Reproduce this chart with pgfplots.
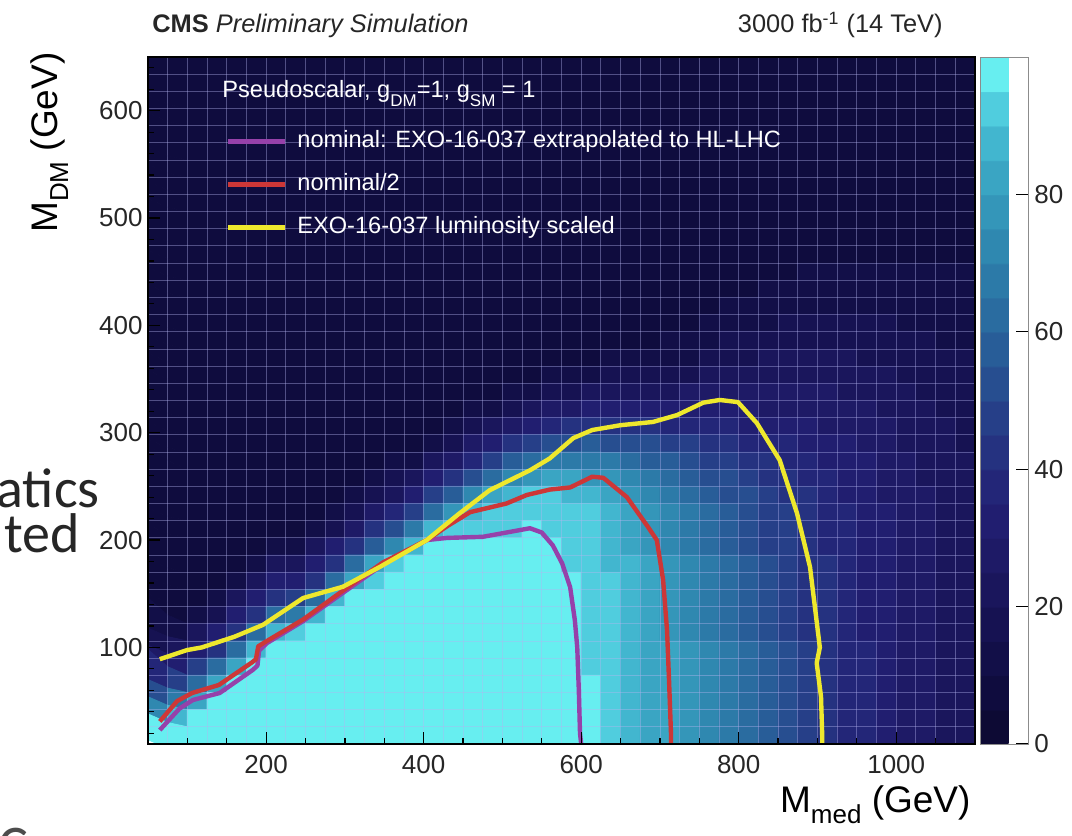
\documentclass[border=0pt]{standalone}
\usepackage{pgfplots}
\pgfplotsset{compat=1.18}
\usepackage{pgfplotstable}
\usepackage{fontspec}
\setmainfont{Liberation Sans}
\newfontfamily\slidefont{Carlito}
\definecolor{cpurple}{RGB}{150,65,170}
\definecolor{cred}{RGB}{205,55,55}
\definecolor{cyellow}{RGB}{238,232,45}
\definecolor{gridc}{RGB}{180,180,240}
\newcommand{\ticfont}{\fontsize{13}{15}\selectfont}
\newcommand{\labfont}{\fontsize{18.5}{21}\selectfont}
\newcommand{\legfont}{\fontsize{11.8}{13}\selectfont}
\newcommand{\labsub}[1]{\raisebox{-0.3em}{\fontsize{13}{13}\selectfont #1}}
\newcommand{\legsub}[1]{\raisebox{-0.35em}{\fontsize{8.5}{8.5}\selectfont #1}}

% heat map values, one row per M_DM bin (top row first, 16 GeV bins), 42 M_med bins of 25 GeV each
\pgfplotstableread[row sep=\\, header=false]{
7\\7\\7\\7\\7\\7\\7\\ 7\\7\\7\\7\\7\\7\\7\\ 7\\7\\7\\7\\7\\7\\7\\ 7\\7\\7\\7\\7\\7\\7\\ 7\\7\\7\\7\\7\\7\\7\\ 7\\7\\7\\7\\7\\7\\7\\
7\\7\\7\\7\\7\\7\\7\\ 7\\7\\7\\7\\7\\7\\7\\ 7\\7\\7\\7\\7\\7\\7\\ 7\\7\\7\\7\\7\\7\\7\\ 7\\7\\7\\7\\7\\7\\7\\ 7\\7\\7\\7\\7\\7\\7\\
7\\7\\7\\7\\7\\7\\7\\ 7\\7\\7\\7\\7\\7\\7\\ 7\\7\\7\\7\\7\\7\\7\\ 7\\7\\7\\7\\7\\7\\7\\ 7\\7\\7\\7\\7\\7\\7\\ 7\\7\\7\\7\\7\\7\\7\\
7\\7\\7\\7\\7\\7\\7\\ 7\\7\\7\\7\\7\\7\\7\\ 7\\7\\7\\7\\7\\7\\7\\ 7\\7\\7\\7\\7\\7\\7\\ 7\\7\\7\\7\\7\\7\\7\\ 7\\7\\7\\7\\7\\7\\7\\
7\\7\\7\\7\\7\\7\\7\\ 7\\7\\7\\7\\7\\7\\7\\ 7\\7\\7\\7\\7\\7\\7\\ 7\\7\\7\\7\\7\\7\\7\\ 7\\7\\7\\7\\7\\7\\7\\ 7\\7\\7\\7\\7\\7\\7\\
7\\7\\7\\7\\7\\7\\7\\ 7\\7\\7\\7\\7\\7\\7\\ 7\\7\\7\\7\\7\\7\\7\\ 7\\7\\7\\7\\7\\7\\7\\ 7\\7\\7\\7\\7\\7\\7\\ 7\\7\\7\\7\\7\\7\\7\\
7\\7\\7\\7\\7\\7\\7\\ 7\\7\\7\\7\\7\\7\\7\\ 7\\7\\7\\7\\7\\7\\7\\ 7\\7\\7\\7\\7\\7\\7\\ 7\\7\\7\\7\\7\\7\\7\\ 7\\7\\7\\7\\7\\7\\7\\
7\\7\\7\\7\\7\\7\\7\\ 7\\7\\7\\7\\7\\7\\7\\ 7\\7\\7\\7\\7\\7\\7\\ 7\\7\\7\\7\\7\\7\\7\\ 7\\7\\7\\7\\7\\7\\7\\ 7\\7\\7\\7\\7\\7\\7\\
7\\7\\7\\7\\7\\7\\7\\ 7\\7\\7\\7\\7\\7\\7\\ 7\\7\\7\\7\\7\\7\\7\\ 7\\7\\7\\7\\7\\7\\7\\ 7\\7\\7\\7\\7\\7\\7\\ 7\\7\\7\\7\\7\\7\\7\\
7\\7\\7\\7\\7\\7\\7\\ 7\\7\\7\\7\\7\\7\\7\\ 7\\7\\7\\7\\7\\7\\7\\ 7\\7\\7\\7\\7\\7\\7\\ 7\\7\\7\\7\\7\\7\\7\\ 7\\7\\7\\7\\7\\7\\7\\
7\\7\\7\\7\\7\\7\\7\\ 7\\7\\7\\7\\7\\7\\7\\ 7\\7\\7\\7\\7\\7\\7\\ 7\\7\\7\\7\\7\\7\\7\\ 7\\7\\7\\7\\7\\7\\8\\ 8\\8\\8\\8\\8\\8\\8\\
7\\7\\7\\7\\7\\7\\7\\ 7\\7\\7\\7\\7\\7\\7\\ 7\\7\\7\\7\\7\\7\\7\\ 7\\7\\7\\7\\7\\7\\7\\ 7\\7\\7\\7\\8\\8\\9\\ 9\\9\\9\\9\\9\\9\\9\\
7\\7\\7\\7\\7\\7\\7\\ 7\\7\\7\\7\\7\\7\\7\\ 7\\7\\7\\7\\7\\7\\7\\ 7\\7\\7\\7\\7\\7\\7\\ 7\\7\\8\\8\\9\\10\\10\\ 11\\11\\10\\10\\10\\10\\10\\
7\\7\\7\\7\\7\\7\\7\\ 7\\7\\7\\7\\7\\7\\7\\ 7\\7\\7\\7\\7\\7\\7\\ 7\\7\\7\\7\\7\\7\\7\\ 7\\8\\9\\10\\11\\12\\12\\ 12\\12\\12\\11\\11\\11\\11\\
7\\7\\7\\7\\7\\7\\7\\ 7\\7\\7\\7\\7\\7\\7\\ 7\\7\\7\\7\\7\\7\\7\\ 7\\7\\7\\7\\7\\7\\7\\ 8\\10\\11\\12\\13\\14\\14\\ 14\\14\\13\\13\\12\\12\\12\\
7\\7\\7\\7\\7\\7\\7\\ 7\\7\\7\\7\\7\\7\\7\\ 7\\7\\7\\7\\7\\7\\7\\ 7\\7\\7\\7\\7\\8\\8\\ 10\\12\\13\\14\\15\\16\\16\\ 16\\15\\15\\14\\13\\13\\13\\
7\\7\\7\\7\\7\\7\\7\\ 7\\7\\7\\7\\7\\7\\7\\ 7\\7\\7\\7\\7\\7\\7\\ 7\\7\\7\\8\\9\\10\\11\\ 13\\15\\16\\17\\17\\18\\18\\ 18\\17\\16\\16\\15\\14\\14\\
7\\7\\7\\7\\7\\7\\7\\ 7\\7\\7\\7\\7\\7\\7\\ 7\\7\\7\\7\\7\\7\\7\\ 8\\9\\10\\11\\12\\13\\14\\ 16\\18\\19\\20\\20\\20\\20\\ 20\\19\\18\\17\\16\\15\\15\\
7\\7\\7\\7\\7\\7\\7\\ 7\\7\\7\\7\\7\\7\\7\\ 7\\7\\7\\7\\7\\9\\10\\ 12\\13\\15\\16\\17\\18\\19\\ 20\\22\\23\\23\\23\\23\\22\\ 22\\21\\20\\19\\18\\17\\16\\
7\\7\\7\\7\\7\\7\\7\\ 7\\7\\7\\7\\7\\7\\7\\ 7\\7\\7\\9\\11\\14\\16\\ 18\\20\\22\\23\\23\\24\\25\\ 25\\26\\26\\26\\26\\25\\25\\ 24\\23\\22\\20\\19\\18\\17\\
7\\7\\7\\7\\7\\7\\7\\ 7\\7\\7\\7\\7\\7\\7\\ 7\\7\\10\\13\\18\\22\\25\\ 28\\30\\31\\31\\31\\31\\31\\ 30\\30\\30\\29\\29\\28\\27\\ 26\\25\\23\\22\\21\\19\\18\\
7\\7\\7\\7\\7\\7\\7\\ 7\\7\\7\\7\\7\\7\\7\\ 9\\11\\16\\21\\28\\33\\36\\ 40\\42\\42\\41\\40\\39\\38\\ 36\\35\\34\\33\\32\\31\\29\\ 28\\27\\25\\23\\22\\20\\19\\
7\\7\\7\\7\\7\\7\\7\\ 7\\7\\7\\7\\7\\7\\9\\ 13\\17\\25\\32\\40\\46\\50\\ 54\\55\\54\\52\\50\\48\\46\\ 42\\41\\39\\37\\35\\33\\31\\ 30\\28\\26\\24\\23\\21\\19\\
7\\7\\7\\7\\7\\7\\7\\ 7\\7\\7\\7\\7\\10\\14\\ 20\\27\\37\\46\\55\\62\\66\\ 68\\68\\66\\63\\59\\56\\53\\ 48\\46\\43\\40\\38\\36\\33\\ 31\\30\\27\\25\\24\\22\\20\\
7\\7\\7\\7\\7\\7\\7\\ 7\\7\\7\\7\\11\\15\\22\\ 31\\40\\52\\62\\72\\78\\80\\ 80\\78\\76\\72\\67\\63\\59\\ 54\\50\\47\\43\\40\\38\\35\\ 33\\31\\28\\26\\24\\22\\20\\
7\\7\\7\\7\\7\\7\\7\\ 7\\7\\7\\12\\18\\24\\33\\ 45\\56\\70\\80\\88\\92\\90\\ 88\\86\\83\\78\\73\\68\\64\\ 58\\54\\50\\46\\43\\40\\37\\ 34\\32\\29\\26\\25\\23\\21\\
7\\7\\7\\7\\7\\7\\7\\ 7\\7\\12\\19\\28\\36\\48\\ 64\\76\\88\\90\\93\\93\\93\\ 92\\90\\87\\82\\77\\72\\68\\ 62\\57\\53\\49\\45\\42\\38\\ 35\\33\\30\\27\\26\\23\\21\\
7\\7\\7\\7\\7\\7\\7\\ 7\\12\\19\\29\\42\\52\\68\\ 86\\93\\93\\94\\94\\96\\94\\ 92\\90\\87\\82\\77\\72\\68\\ 62\\57\\53\\49\\45\\42\\38\\ 35\\33\\30\\27\\26\\23\\21\\
7\\7\\7\\7\\7\\7\\12\\ 12\\20\\30\\43\\58\\72\\88\\ 98\\98\\98\\98\\98\\98\\98\\ 92\\90\\87\\82\\77\\72\\68\\ 62\\57\\53\\49\\45\\42\\38\\ 35\\33\\30\\27\\26\\23\\21\\
7\\7\\7\\7\\7\\12\\20\\ 20\\30\\44\\60\\80\\90\\98\\ 98\\98\\98\\98\\98\\98\\98\\ 92\\90\\87\\85\\81\\76\\72\\ 66\\61\\57\\52\\48\\44\\40\\ 37\\34\\31\\28\\26\\24\\22\\
7\\7\\7\\7\\12\\20\\30\\ 31\\44\\62\\80\\94\\98\\98\\ 98\\98\\98\\98\\98\\98\\98\\ 95\\90\\90\\85\\81\\76\\72\\ 66\\61\\57\\52\\48\\44\\40\\ 37\\34\\31\\28\\26\\24\\22\\
7\\7\\7\\12\\20\\30\\44\\ 46\\63\\85\\96\\98\\98\\98\\ 98\\98\\98\\98\\98\\98\\98\\ 95\\94\\90\\85\\81\\76\\72\\ 66\\61\\57\\52\\48\\44\\40\\ 37\\34\\31\\28\\26\\24\\22\\
7\\7\\12\\19\\30\\44\\63\\ 66\\86\\98\\98\\98\\98\\98\\ 98\\98\\98\\98\\98\\98\\98\\ 95\\94\\90\\85\\81\\76\\72\\ 66\\61\\57\\52\\48\\44\\40\\ 37\\34\\31\\28\\26\\24\\22\\
10\\13\\20\\30\\44\\63\\86\\ 92\\98\\98\\98\\98\\98\\98\\ 98\\98\\98\\98\\98\\98\\98\\ 95\\94\\90\\85\\81\\76\\72\\ 66\\61\\57\\52\\48\\44\\40\\ 37\\34\\31\\28\\26\\24\\22\\
16\\22\\30\\44\\62\\85\\98\\ 98\\98\\98\\98\\98\\98\\98\\ 98\\98\\98\\98\\98\\98\\98\\ 98\\94\\90\\88\\84\\80\\76\\ 71\\65\\60\\55\\50\\46\\42\\ 38\\35\\32\\29\\27\\24\\22\\
26\\33\\45\\62\\84\\98\\98\\ 98\\98\\98\\98\\98\\98\\98\\ 98\\98\\98\\98\\98\\98\\98\\ 98\\94\\92\\88\\84\\80\\76\\ 71\\65\\60\\55\\50\\46\\42\\ 38\\35\\32\\29\\27\\24\\22\\
38\\48\\63\\82\\98\\98\\98\\ 98\\98\\98\\98\\98\\98\\98\\ 98\\98\\98\\98\\98\\98\\98\\ 98\\97\\92\\88\\84\\80\\76\\ 71\\65\\60\\55\\50\\46\\42\\ 38\\35\\32\\29\\27\\24\\22\\
52\\66\\84\\98\\98\\98\\98\\ 98\\98\\98\\98\\98\\98\\98\\ 98\\98\\98\\98\\98\\98\\98\\ 98\\97\\92\\88\\84\\80\\76\\ 71\\65\\60\\55\\50\\46\\42\\ 38\\35\\32\\29\\27\\24\\22\\
72\\88\\97\\98\\98\\98\\98\\ 98\\98\\98\\98\\98\\98\\98\\ 98\\98\\98\\98\\98\\98\\98\\ 98\\97\\92\\88\\84\\80\\76\\ 71\\65\\60\\55\\50\\46\\42\\ 38\\35\\32\\29\\27\\24\\22\\
96\\98\\98\\98\\98\\98\\98\\ 98\\98\\98\\98\\98\\98\\98\\ 98\\98\\98\\98\\98\\98\\98\\ 98\\97\\92\\88\\84\\80\\76\\ 71\\65\\60\\55\\50\\46\\42\\ 38\\35\\32\\29\\27\\24\\22\\
}\heatdata

\begin{document}
\begin{tikzpicture}
\useasboundingbox (-74pt,-46pt) rectangle (462pt,372pt);
\clip (-74pt,-46pt) rectangle (462pt,372pt);
\begin{axis}[
  at={(0pt,0pt)}, anchor=south west,
  scale only axis, width=413.5pt, height=343.5pt,
  xmin=50, xmax=1100, ymin=10, ymax=650,
  xtick={200,400,600,800,1000}, ytick={100,200,300,400,500,600},
  minor xtick={50,100,...,1100}, minor ytick={20,40,...,640},
  tick pos=left, tick align=inside,
  major tick length=6pt, minor tick length=3pt,
  tick style={black, line width=0.6pt},
  axis on top,
  axis line style={line width=0.6pt},
  /pgf/number format/assume math mode=true,
  /pgf/number format/1000 sep={},
  tick label style={font=\ticfont, inner sep=0pt, text=black!85},
  xticklabel style={yshift=-5.5pt},
  yticklabel style={xshift=-2.5pt},
  xlabel={M\labsub{med} (GeV)},
  ylabel={M\labsub{DM} (GeV)},
  xlabel style={at={(axis description cs:0.995,-0.099)}, anchor=base east, font=\labfont, inner sep=0pt},
  ylabel style={at={(axis description cs:-0.110,1.007)}, anchor=base east, font=\labfont, inner sep=0pt},
  colormap={cmsds}{
    rgb255(0pt)=(13,10,52) rgb255(49pt)=(13,10,52)
    rgb255(50pt)=(15,12,62) rgb255(99pt)=(15,12,62)
    rgb255(100pt)=(18,15,72) rgb255(149pt)=(18,15,72)
    rgb255(150pt)=(22,18,82) rgb255(199pt)=(22,18,82)
    rgb255(200pt)=(26,22,92) rgb255(249pt)=(26,22,92)
    rgb255(250pt)=(30,26,102) rgb255(299pt)=(30,26,102)
    rgb255(300pt)=(33,30,112) rgb255(349pt)=(33,30,112)
    rgb255(350pt)=(35,38,120) rgb255(399pt)=(35,38,120)
    rgb255(400pt)=(37,50,128) rgb255(449pt)=(37,50,128)
    rgb255(450pt)=(38,63,136) rgb255(499pt)=(38,63,136)
    rgb255(500pt)=(39,78,144) rgb255(549pt)=(39,78,144)
    rgb255(550pt)=(40,93,152) rgb255(599pt)=(40,93,152)
    rgb255(600pt)=(42,108,160) rgb255(649pt)=(42,108,160)
    rgb255(650pt)=(44,122,168) rgb255(699pt)=(44,122,168)
    rgb255(700pt)=(47,136,176) rgb255(749pt)=(47,136,176)
    rgb255(750pt)=(52,150,185) rgb255(799pt)=(52,150,185)
    rgb255(800pt)=(58,165,195) rgb255(849pt)=(58,165,195)
    rgb255(850pt)=(66,182,207) rgb255(899pt)=(66,182,207)
    rgb255(900pt)=(80,205,222) rgb255(949pt)=(80,205,222)
    rgb255(950pt)=(103,238,240) rgb255(1000pt)=(103,238,240)
  },
  point meta min=0, point meta max=100,
  colorbar,
  colorbar style={
    at={(parent axis.north east)}, anchor=north west, xshift=-6pt,
    width=24pt, scale only axis,
    ytick={0,20,40,60,80},
    ytick pos=right, yticklabel pos=right,
    tick align=inside, major tick length=6pt,
    tick style={black, line width=0.6pt},
    yticklabel style={font=\ticfont, inner sep=0pt, xshift=3pt, text=black!85},
    /pgf/number format/assume math mode=true,
    axis line style={draw=black!45, line width=0.3pt},
  },
  legend style={at={(0.0943,0.893)}, anchor=north west, draw=none, fill=none,
    text=white, font=\legfont, legend cell align=left, inner sep=0pt, outer sep=0pt,
    row sep=10.5pt, column sep=5pt,
    nodes={inner sep=0pt, text height=8.5pt, text depth=2.5pt}},
  legend image code/.code={\draw[#1, line width=2.2pt] (0pt,0pt) -- (28.5pt,0pt);},
]
\addplot[matrix plot*, mesh/cols=42, point meta=explicit, forget plot]
  table[x index=0, y index=0, meta index=0, x expr={62.5+25*mod(\coordindex,42)}, y expr={642-16*floor(\coordindex/42)}] {\heatdata};

\pgfplotsinvokeforeach{75,100,...,1075}{
  \draw[gridc, line width=0.45pt, opacity=0.4] (axis cs:#1,10) -- (axis cs:#1,650);
}
\pgfplotsinvokeforeach{26,42,...,634}{
  \draw[gridc, line width=0.45pt, opacity=0.4] (axis cs:50,#1) -- (axis cs:1100,#1);
}

\addplot[cpurple, line width=2.2pt, line join=round] coordinates {
(65,23) (90,43) (107,51) (141,57.5) (183,79) (189,83) (191,97) (201,104) (247,124.5) (294,149) (348,177) (404,200) (430,202) (475,203) (535,211) (550,207) (564,195) (576,178) (586,156) (592,125) (595,100) (597,60) (598.5,20) (600,10)};
\addlegendentry{nominal: EXO-16-037 extrapolated to HL-LHC}
\addplot[cred, line width=2.2pt, line join=round] coordinates {
(65,31) (87,50) (106,57.5) (140,65) (182,86) (187,89) (190,101) (201,106) (247,126) (294,151) (348,179) (404,200) (430,213) (459,226) (505,234) (531,242) (560,247) (586,249) (614,259) (628,258) (658,240) (685,212) (696,200) (704,163) (709,116) (711.5,70) (714,20) (714,10)};
\addlegendentry{nominal/2}
\addplot[cyellow, line width=2.2pt, line join=round] coordinates {
(65,89) (99.5,97.5) (118.5,100) (160,110) (196,121) (247,146) (297.5,156.5) (344.5,175) (404,200) (444,224) (484,246.5) (535,265) (560,276) (590,295) (614,302.5) (650,307) (691,310) (722,316.5) (755,328) (776,330.5) (799,328.5) (823,309) (852,274.5) (874,225) (890.5,175) (903,100) (899,85.5) (904.5,54) (906,18) (906,10)};
\addlegendentry{EXO-16-037 luminosity scaled}
\end{axis}
\node[anchor=base west, inner sep=0pt, font=\fontsize{12.7}{14}\selectfont, text=black!85] at (2pt,355.5pt) {\textbf{CMS} \textit{Preliminary Simulation}};
\node[anchor=base east, inner sep=0pt, font=\fontsize{12.7}{14}\selectfont, text=black!85] at (397.5pt,355.5pt) {3000 fb\textsuperscript{-1} (14 TeV)};
\node[anchor=base west, inner sep=0pt, font=\legfont, text=white] at (37pt,323pt) {Pseudoscalar, g\legsub{DM}=1, g\legsub{SM} = 1};
\node[anchor=base east, inner sep=0pt, font=\slidefont\fontsize{28}{30}\selectfont, text=black!85] at (-24pt,118pt) {atics};
\node[anchor=base east, inner sep=0pt, font=\slidefont\fontsize{28}{30}\selectfont, text=black!85] at (-34pt,95.5pt) {ted};
\node[anchor=base west, inner sep=0pt, font=\slidefont\fontsize{28}{30}\selectfont, text=black!70] at (-75pt,-60pt) {C};
\end{tikzpicture}
\end{document}
